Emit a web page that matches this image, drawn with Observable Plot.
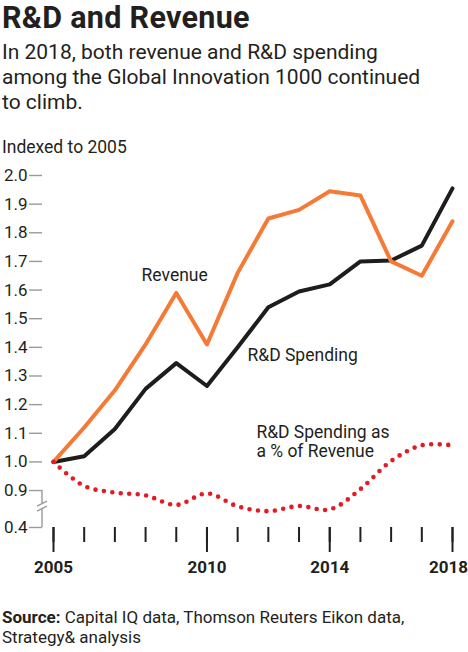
<!DOCTYPE html>
<html>
<head>
<meta charset="utf-8">
<script src="https://cdn.jsdelivr.net/npm/d3@7"></script>
<script src="https://cdn.jsdelivr.net/npm/@observablehq/plot@0.6"></script>
<style>
  body { margin: 0; background: #fff; font-family: Roboto, sans-serif; color: #231f20; }
  #page { position: relative; width: 468px; height: 652px; overflow: hidden; }
  #page > div { position: absolute; left: 2px; white-space: nowrap; }
  .title { top: 1px; font-size: 30.5px; line-height: 34px; font-weight: 700; letter-spacing: 0.3px; }
  .sub { top: 40px; font-size: 21px; line-height: 25px; }
  .unit { top: 137px; font-size: 17.5px; line-height: 20px; }
  #chart { top: 160px; left: 0 !important; }
  .source { top: 608px; font-size: 17px; line-height: 19.5px; }
</style>
</head>
<body>
<div id="page">
  <div class="title">R&amp;D and Revenue</div>
  <div class="sub">In 2018, both revenue and R&amp;D spending<br>among the Global Innovation 1000 continued<br>to climb.</div>
  <div class="unit">Indexed to 2005</div>
  <div id="chart"></div>
  <div class="source"><b>Source:</b> Capital IQ data, Thomson Reuters Eikon data,<br>Strategy&amp; analysis</div>
</div>
<script>
// valeurs (indice 2005 = 1)
const years = [2005, 2006, 2007, 2008, 2009, 2010, 2011, 2012, 2013, 2014, 2015, 2016, 2017, 2018];
const revenue = [1.00, 1.12, 1.25, 1.41, 1.59, 1.41, 1.66, 1.85, 1.88, 1.945, 1.93, 1.70, 1.65, 1.84];
const rdSpending = [1.00, 1.02, 1.115, 1.255, 1.345, 1.265, 1.40, 1.54, 1.595, 1.62, 1.70, 1.703, 1.755, 1.955];
const rdShare = [1.00, 0.916, 0.893, 0.883, 0.85, 0.89, 0.845, 0.828, 0.846, 0.834, 0.905, 1.003, 1.058, 1.058];

const labelYears = [2005, 2010, 2014, 2018];
const yFloor = 0.771; // bas de l'axe coupé, étiqueté "0.4"
const yTicks = [yFloor, 0.9, 1.0, 1.1, 1.2, 1.3, 1.4, 1.5, 1.6, 1.7, 1.8, 1.9, 2.0];
const yTickLabels = ["0.4", "0.9", "1.0", "1.1", "1.2", "1.3", "1.4", "1.5", "1.6", "1.7", "1.8", "1.9", "2.0"];

const rows = years.map((year, i) => ({year, revenue: revenue[i], rd: rdSpending[i], share: rdShare[i]}));

// annotations (position en année / indice)
const notes = [
  {year: 2007.87, value: 1.633, text: "Revenue"},
  {year: 2011.32, value: 1.354, text: "R&D Spending"},
  {year: 2011.61, value: 1.016, text: "R&D Spending as\na % of Revenue"}
];

const tickLabel = new Map(yTicks.map((t, i) => [t, yTickLabels[i]]));
const yearText = {tickSize: 0, tickPadding: 33, tickFormat: d => String(d), fontSize: 17, fontWeight: "bold", label: null};

const chart = Plot.plot({
  width: 468,
  height: 420,
  marginTop: 15,
  marginBottom: 53,
  marginLeft: 42,
  marginRight: 16,
  style: {fontFamily: "Roboto, sans-serif", color: "#231f20", overflow: "visible"},
  x: {domain: [2005, 2018], insetLeft: 11},
  y: {domain: [yFloor, 2.0]},
  marks: [
    Plot.axisY({ticks: yTicks, tickFormat: d => tickLabel.get(d), tickSize: 13, tickPadding: 2,
      stroke: "#9a9a9a", strokeWidth: 1.4, fontSize: 17, label: null}),
    Plot.axisX({ticks: years, tickSize: 15, tickFormat: () => "", strokeWidth: 2, label: null}),
    Plot.axisX({ticks: labelYears, tickSize: 25, tickFormat: () => "", strokeWidth: 2, label: null}),
    Plot.axisX({...yearText, ticks: labelYears.slice(0, -1)}),
    Plot.axisX({...yearText, ticks: labelYears.slice(-1), dx: -4}),
    Plot.line(rows, {x: "year", y: "rd", stroke: "#1d1d1b", strokeWidth: 4}),
    Plot.line(rows, {x: "year", y: "revenue", stroke: "#f47a36", strokeWidth: 4}),
    Plot.line(rows, {x: "year", y: "share", stroke: "#e31b23", strokeWidth: 4.6,
      strokeDasharray: "0 8.5", strokeLinecap: "round", curve: "catmull-rom"}),
    Plot.text(notes, {x: "year", y: "value", text: "text", textAnchor: "start", lineAnchor: "bottom",
      fontSize: 17.5, lineHeight: 1.12, fill: "#231f20"})
  ]
});

// coupure de l'axe y entre 0.9 et 0.4
const y = chart.scale("y");
const yTop = y.apply(0.9), yBot = y.apply(yFloor), x0 = 42;
d3.select(chart).append("path")
  .attr("fill", "none")
  .attr("stroke", "#9a9a9a")
  .attr("stroke-width", 1.4)
  .attr("d", `M${x0},${yTop}V${yTop + 13}M${x0},${yTop + 19}V${yBot}` +
    `M${x0 - 5},${yTop + 16}L${x0 + 5},${yTop + 11}M${x0 - 5},${yTop + 21}L${x0 + 5},${yTop + 16}`);

d3.select('#chart').append(() => chart);
</script>
</body>
</html>
